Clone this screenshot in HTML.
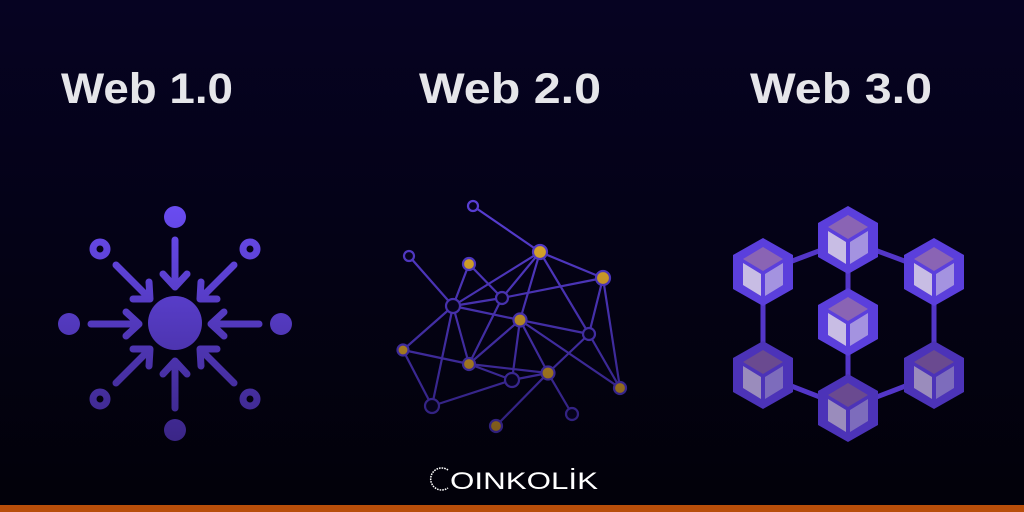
<!DOCTYPE html>
<html><head><meta charset="utf-8"><style>
html,body{margin:0;padding:0;width:1024px;height:512px;overflow:hidden;background:#04021a}
</style></head><body>
<svg width="1024" height="512" viewBox="0 0 1024 512" xmlns="http://www.w3.org/2000/svg">
<defs>
<linearGradient id="bg" x1="0" y1="0" x2="0" y2="1">
<stop offset="0" stop-color="#060322"/><stop offset="1" stop-color="#020109"/>
</linearGradient>
<linearGradient id="pg" gradientUnits="userSpaceOnUse" x1="0" y1="205" x2="0" y2="445">
<stop offset="0" stop-color="#6a4cf2"/><stop offset="1" stop-color="#3a2585"/>
</linearGradient>
<linearGradient id="lg" gradientUnits="userSpaceOnUse" x1="0" y1="195" x2="0" y2="440">
<stop offset="0" stop-color="#5a3fd8"/><stop offset="1" stop-color="#2e1f78"/>
</linearGradient>
<linearGradient id="gg" gradientUnits="userSpaceOnUse" x1="0" y1="240" x2="0" y2="430">
<stop offset="0" stop-color="#d8a52a"/><stop offset="1" stop-color="#7d5a1a"/>
</linearGradient>
<g id="hex">
<polygon points="0,-34 30,-17 30,17 0,34 -30,17 -30,-17" fill="#5b3fdc"/>
<polygon points="0,-25 20,-13 0,-1 -20,-13" fill="#8a64b4"/>
<polygon points="-20,-9 -2,2 -2,24 -20,13" fill="#c8bde4"/>
<polygon points="20,-9 2,2 2,24 20,13" fill="#a493e0"/>
</g>
<g id="hexd">
<polygon points="0,-34 30,-17 30,17 0,34 -30,17 -30,-17" fill="#4c33b8"/>
<polygon points="0,-25 20,-13 0,-1 -20,-13" fill="#6a4a90"/>
<polygon points="-20,-9 -2,2 -2,24 -20,13" fill="#9a8cbc"/>
<polygon points="20,-9 2,2 2,24 20,13" fill="#7d6cbc"/>
</g>
</defs>
<rect width="1024" height="512" fill="url(#bg)"/>
<rect x="0" y="505" width="1024" height="7" fill="#b84e0a"/>

<g font-family="Liberation Sans, sans-serif" font-weight="bold" font-size="43" fill="#e6e6ea">
<text x="61" y="103" textLength="172" lengthAdjust="spacingAndGlyphs">Web 1.0</text>
<text x="419" y="103" textLength="182" lengthAdjust="spacingAndGlyphs">Web 2.0</text>
<text x="750" y="103" textLength="182" lengthAdjust="spacingAndGlyphs">Web 3.0</text>
</g>

<!-- Web 1.0 -->
<g fill="url(#pg)" stroke="url(#pg)">
<circle cx="175" cy="323" r="27" stroke="none"/>
<circle cx="175" cy="217" r="11" stroke="none"/>
<circle cx="175" cy="430" r="11" stroke="none"/>
<circle cx="69" cy="324" r="11" stroke="none"/>
<circle cx="281" cy="324" r="11" stroke="none"/>
<g fill="none" stroke-width="7">
<circle cx="100" cy="249" r="7"/><circle cx="250" cy="249" r="7"/>
<circle cx="100" cy="399" r="7"/><circle cx="250" cy="399" r="7"/>
</g>
<g fill="none" stroke-width="7" stroke-linecap="round" stroke-linejoin="round">
<path d="M175 240 V286 M163 274 L175 287 L187 274"/>
<path d="M175 408 V362 M163 374 L175 361 L187 374"/>
<path d="M91 324 H138 M126 312 L139 324 L126 336"/>
<path d="M259 324 H212 M224 312 L211 324 L224 336"/>
<path d="M116 265 L149 298 M133 299 L150 299 L149 282"/>
<path d="M234 265 L201 298 M217 299 L200 299 L201 282"/>
<path d="M116 383 L149 350 M133 349 L150 349 L149 366"/>
<path d="M234 383 L201 350 M217 349 L200 349 L201 366"/>
</g>
</g>

<!-- Web 2.0 -->
<g stroke="url(#lg)" stroke-width="2.2" fill="none">
<path d="M473 206L540 252 M409 256L453 306 M469 264L453 306 M469 264L502 298 M540 252L453 306 M540 252L502 298 M540 252L520 320 M540 252L589 334 M540 252L603 278 M603 278L502 298 M603 278L589 334 M603 278L620 388 M453 306L502 298 M453 306L520 320 M453 306L403 350 M453 306L432 406 M453 306L469 364 M502 298L469 364 M520 320L469 364 M520 320L589 334 M520 320L548 373 M520 320L512 380 M520 320L620 388 M589 334L548 373 M589 334L620 388 M403 350L469 364 M403 350L432 406 M469 364L548 373 M469 364L512 380 M512 380L548 373 M432 406L512 380 M548 373L572 414 M548 373L496 426"/>
</g>
<g stroke="url(#lg)" stroke-width="2.2">
<g fill="#06031c">
<circle cx="473" cy="206" r="5"/><circle cx="409" cy="256" r="5"/><circle cx="453" cy="306" r="7"/>
<circle cx="502" cy="298" r="6"/><circle cx="589" cy="334" r="6"/><circle cx="512" cy="380" r="7"/>
<circle cx="432" cy="406" r="7"/><circle cx="572" cy="414" r="6"/>
</g>
<g fill="url(#gg)">
<circle cx="540" cy="252" r="7"/><circle cx="603" cy="278" r="7"/><circle cx="469" cy="264" r="6"/>
<circle cx="520" cy="320" r="6.5"/><circle cx="403" cy="350" r="5.5"/><circle cx="469" cy="364" r="6"/>
<circle cx="548" cy="373" r="6.5"/><circle cx="620" cy="388" r="6"/><circle cx="496" cy="426" r="6"/>
</g>
</g>

<!-- Web 3.0 -->
<g stroke="#5336c8" stroke-width="5" fill="none">
<path d="M763 272L848 240L934 272L934 375L848 408L763 375Z M848 240V408"/>
</g>
<use href="#hex" x="848" y="240"/>
<use href="#hex" x="763" y="272"/>
<use href="#hex" x="934" y="272"/>
<use href="#hex" x="848" y="322"/>
<use href="#hexd" x="763" y="375"/>
<use href="#hexd" x="934" y="375"/>
<use href="#hexd" x="848" y="408"/>

<!-- logo -->
<g fill="none" stroke="#ffffff" stroke-width="1.5">
<path d="M448 470 A11 11 0 1 0 448 488" stroke-dasharray="1.6 1"/>
</g>
<text x="450" y="489" font-family="Liberation Sans, sans-serif" font-size="24" fill="#ffffff" textLength="148" lengthAdjust="spacingAndGlyphs">OINKOLİK</text>
</svg>
</body></html>
